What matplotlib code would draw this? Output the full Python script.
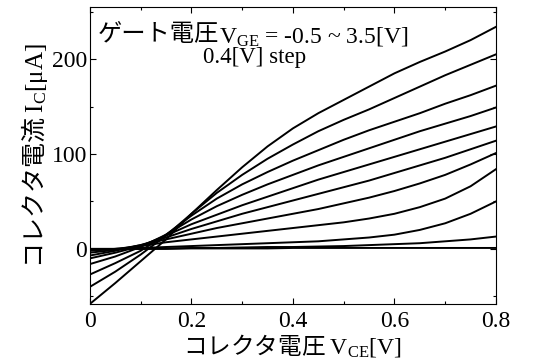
import matplotlib
matplotlib.use("Agg")
import matplotlib.pyplot as plt
from matplotlib.ticker import MultipleLocator

# 和文はゴシック, 数字・英字は Times 系 (mathtext)
plt.rcParams['font.family'] = ['Liberation Serif', 'Noto Sans CJK JP']
plt.rcParams['mathtext.fontset'] = 'custom'
plt.rcParams['mathtext.rm'] = 'Liberation Serif'
plt.rcParams['mathtext.it'] = 'Liberation Serif:italic'
JP = 'Noto Sans CJK JP'

# コレクタ電圧 [V]
vce = [0, 0.05, 0.1, 0.15, 0.2, 0.25, 0.3, 0.35, 0.4, 0.45, 0.5,
       0.55, 0.6, 0.65, 0.7, 0.75, 0.8]

# コレクタ電流 [uA], ゲート電圧 3.5V -> -0.5V
ic_35 = [-58, -36, -13, 10, 37, 62, 86, 108, 127, 143, 157, 171, 185, 197, 208, 220, 234]
ic_31 = [-40, -24, -6, 14, 37, 59, 78, 95, 110, 124, 136, 147, 159, 171, 183, 194, 205]
ic_27 = [-27, -15, -2, 15, 35, 53, 68, 81, 93, 104, 115, 125, 134, 143, 153, 162, 172]
ic_23 = [-16, -8, 2, 15, 31, 45, 57, 68, 78, 88, 97, 106, 115, 124, 132, 140, 149]
ic_19 = [-10, -4, 3, 14, 26, 36, 46, 55, 64, 73, 81, 89, 97, 105, 113, 121, 129]
ic_15 = [-7, -2, 4, 12, 21, 29, 37, 44, 51, 58, 65, 72, 80, 88, 96, 105, 114]
ic_11 = [-4, -1, 4, 10, 16, 22, 27, 32, 37, 42, 48, 54, 61, 69, 78, 89, 101]
ic_07 = [-2, 0, 3, 7, 10, 13, 16, 19, 22, 25, 28, 32, 37, 44, 53, 66, 84]
ic_03 = [-1, 0, 1, 2, 3, 4, 5, 6, 7, 8, 10, 12, 15, 20, 27, 37, 50]
ic_m01 = [0, 0, 0, 0.5, 1, 1, 1.5, 2, 2, 2.5, 3, 4, 5, 6, 8, 10, 13]
ic_m05 = [0, 0, 0, 0, 0.5, 0.5, 0.5, 0.5, 1, 1, 1, 1, 1, 1, 1, 1, 1]

curves = [ic_35, ic_31, ic_27, ic_23, ic_19, ic_15, ic_11, ic_07, ic_03, ic_m01, ic_m05]

fig = plt.figure(figsize=(5.35, 3.64), dpi=100)
ax = fig.add_axes([0.168, 0.165, 0.759, 0.816])

for ic in curves:
    ax.plot(vce, ic, color='black', lw=1.4)

ax.set_xlim(0, 0.8)
ax.set_ylim(-58, 255)
ax.set_xticks([0, 0.2, 0.4, 0.6, 0.8])
ax.set_xticklabels(['0', '0.2', '0.4', '0.6', '0.8'])
ax.set_yticks([0, 100, 200])
ax.set_yticklabels(['0', '100', '200'])
ax.xaxis.set_minor_locator(MultipleLocator(0.1))
ax.yaxis.set_minor_locator(MultipleLocator(50))
ax.tick_params(which='both', direction='in', top=True, right=True, width=0.8)
ax.tick_params(which='major', length=4.5, labelsize=17, pad=2)
ax.tick_params(axis='x', which='major', pad=5)
ax.tick_params(which='minor', length=2.5)

ax.set_xlabel(r'コレクタ電圧 $\mathrm{V_{CE}[V]}$', family=JP, fontsize=17, labelpad=0)
ax.set_ylabel(r'コレクタ電流 $\mathrm{I_{C}[μA]}$', family=JP, fontsize=18, labelpad=1)

t1 = ax.text(0.02, 0.885, 'ゲート電圧', family=JP, fontsize=17.5,
             transform=ax.transAxes, va='baseline')
ax.annotate(r'V$_{\mathrm{GE}}$ = -0.5 ~ 3.5[V]', xy=(1, 0), xycoords=t1,
            xytext=(0, 3), textcoords='offset points', fontsize=17,
            va='baseline')
ax.text(0.278, 0.81, '0.4[V] step', fontsize=16.5, transform=ax.transAxes,
        va='baseline')

fig.savefig('out.png', dpi=100)
